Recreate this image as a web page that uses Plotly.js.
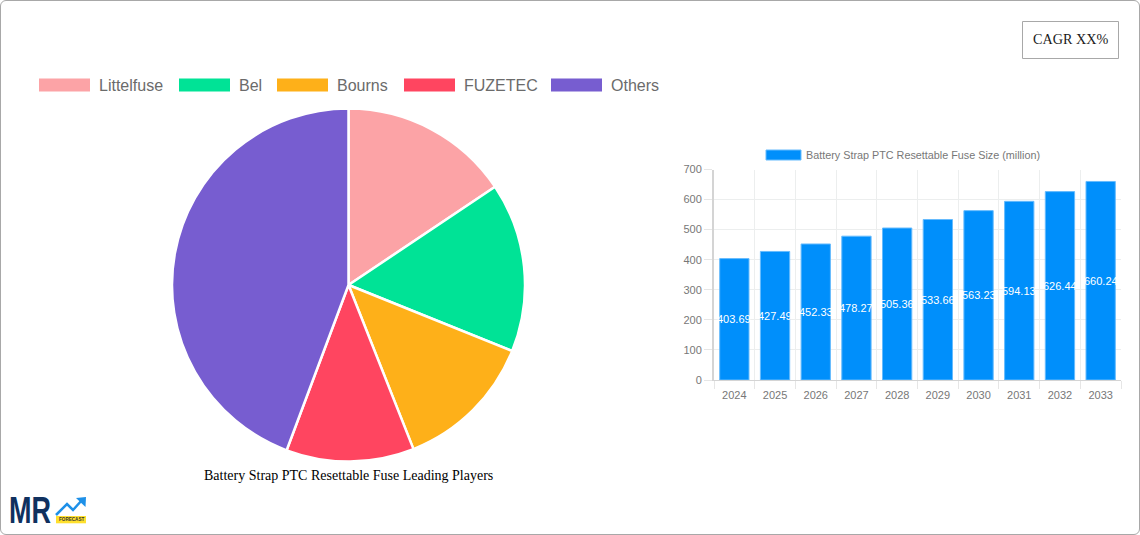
<!DOCTYPE html>
<html>
<head>
<meta charset="utf-8">
<script src="https://cdn.plot.ly/plotly-3.0.1.min.js"></script>
<style>
html,body{margin:0;padding:0;background:#fff;overflow:hidden}
#chart{position:absolute;left:0;top:0;width:1140px;height:535px}
#frame{position:absolute;left:0;top:0;width:1138px;height:533px;border:1px solid #a8a8a8;border-radius:6px;pointer-events:none}
#logo{position:absolute;left:9px;top:492.5px;font:bold 36px/36px "Liberation Sans",Arial,sans-serif;color:#10315f;transform:scaleX(.75);transform-origin:left top;white-space:nowrap}
</style>
</head>
<body>
<div id="chart"></div>
<div id="logo">MR</div>
<div id="frame"></div>
<script>
const players = ["Littelfuse", "Bel", "Bourns", "FUZETEC", "Others"];
const shares = [15.6, 15.5, 12.9, 11.7, 44.3];
const pieColors = ["#FCA3A6", "#00E396", "#FEB019", "#FF4560", "#775DD0"];
const years = ["2024","2025","2026","2027","2028","2029","2030","2031","2032","2033"];
const sizes = [403.69, 427.49, 452.33, 478.27, 505.36, 533.66, 563.23, 594.13, 626.44, 660.24];
const sizeLabels = ["403.69","427.49","452.33","478.27","505.36","533.66","563.23","594.13","626.44","660.24"];
const pieTitle = "Battery Strap PTC Resettable Fuse Leading Players";
const barLegend = "Battery Strap PTC Resettable Fuse Size (million)";
const cagrText = "CAGR XX%";

const W = 1140, H = 535;
const px = x => x / W, py = y => 1 - y / H;
const sans = "Liberation Sans, Arial, sans-serif";
const serif = "Liberation Serif, Times New Roman, serif";

const swatchLeft = [39, 179, 277, 404, 551];
const shapes = [], annotations = [];
const paperRect = (x0, y0, x1, y1, fill, line) => ({
  type: "rect", xref: "paper", yref: "paper",
  x0: px(x0), x1: px(x1), y0: py(y0), y1: py(y1),
  fillcolor: fill, line: line || {width: 0}
});
const paperText = (x, y, text, font, anchor) => ({
  xref: "paper", yref: "paper", x: px(x), y: py(y), text, font,
  showarrow: false, xanchor: anchor || "left", yanchor: "middle"
});

// pie legend
players.forEach((name, i) => {
  shapes.push(paperRect(swatchLeft[i], 78.5, swatchLeft[i] + 51, 91.5, pieColors[i]));
  annotations.push(paperText(swatchLeft[i] + 58, 85.5, name, {family: sans, size: 16, color: "#6b6b6b"}));
});

// bar legend
shapes.push(paperRect(766, 150, 801, 160, "#008FFB", {width: 1, color: "#66bbfd"}));
annotations.push(paperText(804, 155.5, barLegend, {family: sans, size: 10.8, color: "#777"}));

// bar value labels, centred in each bar (category axes position annotations by index)
years.forEach((yr, i) => {
  annotations.push({
    xref: "x", yref: "y", x: i, y: sizes[i] / 2, text: sizeLabels[i],
    showarrow: false, font: {family: sans, size: 11, color: "#fff"},
    xanchor: "center", yanchor: "middle"
  });
});

annotations.push(paperText(348.5, 475.5, pieTitle, {family: serif, size: 14, color: "#000"}, "center"));

// CAGR box
shapes.push(paperRect(1022.5, 21.5, 1118.5, 58.5, "#fff", {width: 1, color: "#a8a8a8"}));
annotations.push(paperText(1070.5, 39, cagrText, {family: serif, size: 14.2, color: "#1a1a1a"}, "center"));

// logo
shapes.push(paperRect(56, 516, 86, 523.3, "#FFE02E"));
annotations.push(paperText(71, 519.8, "<b>FORECAST</b>", {family: sans, size: 4.6, color: "#333"}, "center"));
shapes.push({
  type: "path", xref: "paper", yref: "paper",
  path: `M ${px(56)} ${py(515)} L ${px(67)} ${py(504)} L ${px(73)} ${py(510)} L ${px(82)} ${py(500)}`,
  line: {color: "#1E90E8", width: 2.5}
});
shapes.push({
  type: "path", xref: "paper", yref: "paper",
  path: `M ${px(76)} ${py(498)} L ${px(86)} ${py(497)} L ${px(85.5)} ${py(507)} Z`,
  fillcolor: "#1E90E8", line: {width: 0}
});

const traces = [
  {
    type: "pie", labels: players, values: shares, sort: false, direction: "clockwise", rotation: 0,
    marker: {colors: pieColors, line: {color: "#fff", width: 2.5}},
    textinfo: "none", hoverinfo: "label+percent", showlegend: false,
    domain: {x: [px(172), px(525)], y: [py(461.5), py(108.5)]}
  },
  {
    type: "bar", x: years, y: sizes, showlegend: false,
    marker: {color: "#008FFB", line: {color: "#66bbfd", width: 1}},
    hoverinfo: "x+y"
  }
];

const layout = {
  width: W, height: H, margin: {l: 0, r: 0, t: 0, b: 0},
  paper_bgcolor: "#fff", plot_bgcolor: "#fff", showlegend: false, bargap: 0.28,
  xaxis: {
    domain: [px(714), px(1121)], type: "category", anchor: "y", range: [-0.5, 9.5],
    tickson: "boundaries", ticks: "outside", ticklen: 8, tickcolor: "#e6e6e6", tickwidth: 1,
    showgrid: true, gridcolor: "#eceeee", gridwidth: 1, tickangle: 0, ticklabelstandoff: 5,
    showline: true, linecolor: "#d4d4d4", linewidth: 1,
    tickfont: {family: sans, size: 11, color: "#777"}, zeroline: false
  },
  yaxis: {
    domain: [py(380), py(169.5)], range: [0, 700], anchor: "x", tick0: 0, dtick: 100,
    ticks: "outside", ticklen: 8, tickcolor: "#e6e6e6", tickwidth: 1,
    showgrid: true, gridcolor: "#eceeee", gridwidth: 1,
    showline: true, linecolor: "#d4d4d4", linewidth: 2, zeroline: false,
    tickfont: {family: sans, size: 11, color: "#777"}
  },
  shapes, annotations
};

Plotly.newPlot("chart", traces, layout, {displayModeBar: false, staticPlot: true});
</script>
</body>
</html>
